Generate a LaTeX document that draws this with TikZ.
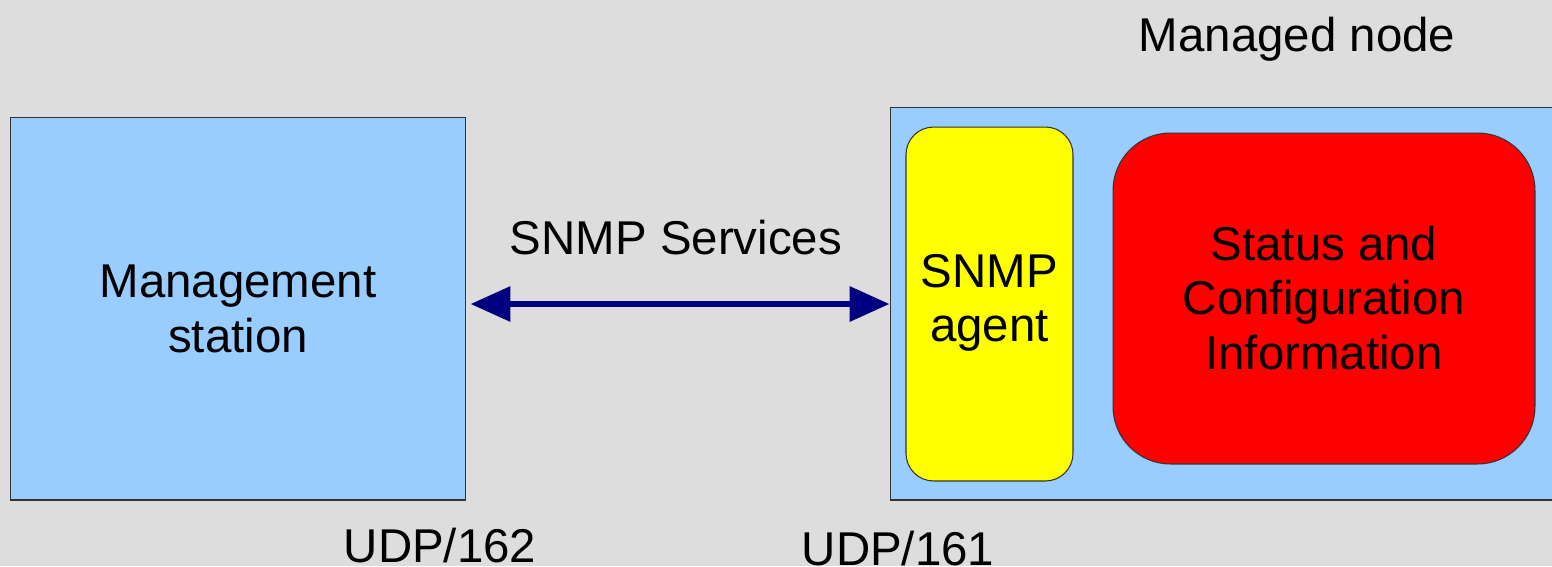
\documentclass[tikz,border=0pt]{standalone}
\usepackage{fontspec}
\setmainfont{Liberation Sans}
\usetikzlibrary{arrows.meta}
\definecolor{bgGrey}{HTML}{DDDDDD}
\definecolor{boxBlue}{HTML}{99CCFF}
\definecolor{agentYellow}{HTML}{FFFF00}
\definecolor{infoRed}{HTML}{FF0000}
\definecolor{linkNavy}{HTML}{000080}
\tikzset{
  bigtext/.style={font=\fontsize{27}{31}\selectfont, align=center},
  hostbox/.style={draw=black!80, fill=boxBlue, line width=0.6pt, inner sep=0pt},
  agentbox/.style={draw=black!80, fill=agentYellow, line width=0.6pt, rounded corners=0.55cm, inner sep=0pt},
  infobox/.style={draw=black!80, fill=infoRed, line width=0.6pt, rounded corners=1.15cm, inner sep=0pt},
  link/.style={draw=linkNavy, line width=0.13cm, {Triangle[length=0.8cm,width=0.68cm]}-{Triangle[length=0.8cm,width=0.68cm]}}
}
\begin{document}
\begin{tikzpicture}[x=0.02cm, y=-0.02cm]

  % Background and frame
  \fill[bgGrey] (0,0) rectangle (1552,566);
  \useasboundingbox (0,0) rectangle (1552,566);
  \clip (0,0) rectangle (1552,566);

  % Management station
  \node[hostbox, minimum width=9.12cm, minimum height=7.66cm] (station) at (238,308.5) {};
  \node[bigtext] (stationlabel) at (238,309) {Management\\station};

  % Managed node with agent and information
  \node[hostbox, minimum width=13.4cm, minimum height=7.86cm] (managed) at (1225,303.5) {};
  \node[bigtext] (managedlabel) at (1297,39) {Managed node};
  \node[agentbox, minimum width=3.34cm, minimum height=7.08cm] (agent) at (989.5,304) {};
  \node[bigtext] (agentlabel) at (989.5,303) {SNMP\\agent};
  \node[infobox, minimum width=8.44cm, minimum height=6.62cm] (info) at (1324,298.5) {};
  \node[bigtext] (infolabel) at (1324,298) {Status and\\Configuration\\Information};

  % SNMP link
  \coordinate (linkstart) at ([xshift=0.08cm, yshift=0.09cm]station.east);
  \draw[link] (linkstart) -- (managed.west |- linkstart);
  \node[bigtext] (services) at (676,238) {SNMP Services};

  % Ports
  \node[bigtext] (udpstation) at (440,546) {UDP/162};
  \node[bigtext] (udpagent) at (898,549) {UDP/161};

\end{tikzpicture}
\end{document}
